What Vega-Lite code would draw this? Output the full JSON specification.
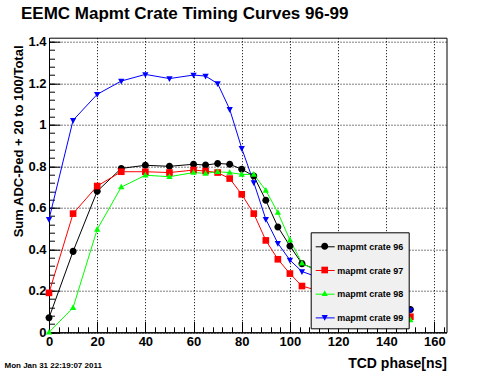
{
  "$schema": "https://vega.github.io/schema/vega-lite/v6.json",
  "width": 397.5,
  "height": 294.6,
  "autosize": {"type": "none"},
  "padding": {"left": 49, "top": 37.7, "right": 49.5, "bottom": 39.7},
  "background": "white",
  "title": {
    "text": "EEMC Mapmt Crate Timing Curves 96-99",
    "anchor": "start",
    "frame": "group",
    "font": "Liberation Sans",
    "fontSize": 17,
    "fontWeight": "bold",
    "color": "black",
    "dx": -28,
    "dy": 16,
    "baseline": "alphabetic",
    "offset": 16
  },
  "data": {
    "values": [
      {"crate": "mapmt crate 96", "phase": 0, "value": 0.07},
      {"crate": "mapmt crate 96", "phase": 10, "value": 0.39},
      {"crate": "mapmt crate 96", "phase": 20, "value": 0.68},
      {"crate": "mapmt crate 96", "phase": 30, "value": 0.79},
      {"crate": "mapmt crate 96", "phase": 40, "value": 0.805},
      {"crate": "mapmt crate 96", "phase": 50, "value": 0.8},
      {"crate": "mapmt crate 96", "phase": 60, "value": 0.81},
      {"crate": "mapmt crate 96", "phase": 65, "value": 0.806},
      {"crate": "mapmt crate 96", "phase": 70, "value": 0.814},
      {"crate": "mapmt crate 96", "phase": 75, "value": 0.81},
      {"crate": "mapmt crate 96", "phase": 80, "value": 0.786},
      {"crate": "mapmt crate 96", "phase": 85, "value": 0.753},
      {"crate": "mapmt crate 96", "phase": 90, "value": 0.636},
      {"crate": "mapmt crate 96", "phase": 95, "value": 0.508},
      {"crate": "mapmt crate 96", "phase": 100, "value": 0.416},
      {"crate": "mapmt crate 96", "phase": 105, "value": 0.331},
      {"crate": "mapmt crate 96", "phase": 150, "value": 0.11},
      {"crate": "mapmt crate 97", "phase": 0, "value": 0.19},
      {"crate": "mapmt crate 97", "phase": 10, "value": 0.572},
      {"crate": "mapmt crate 97", "phase": 20, "value": 0.705},
      {"crate": "mapmt crate 97", "phase": 30, "value": 0.774},
      {"crate": "mapmt crate 97", "phase": 40, "value": 0.774},
      {"crate": "mapmt crate 97", "phase": 50, "value": 0.77},
      {"crate": "mapmt crate 97", "phase": 60, "value": 0.782},
      {"crate": "mapmt crate 97", "phase": 65, "value": 0.777},
      {"crate": "mapmt crate 97", "phase": 70, "value": 0.77},
      {"crate": "mapmt crate 97", "phase": 75, "value": 0.741},
      {"crate": "mapmt crate 97", "phase": 80, "value": 0.665},
      {"crate": "mapmt crate 97", "phase": 85, "value": 0.572},
      {"crate": "mapmt crate 97", "phase": 90, "value": 0.443},
      {"crate": "mapmt crate 97", "phase": 95, "value": 0.352},
      {"crate": "mapmt crate 97", "phase": 100, "value": 0.283},
      {"crate": "mapmt crate 97", "phase": 105, "value": 0.223},
      {"crate": "mapmt crate 97", "phase": 150, "value": 0.075},
      {"crate": "mapmt crate 98", "phase": 0, "value": 0.0},
      {"crate": "mapmt crate 98", "phase": 10, "value": 0.119},
      {"crate": "mapmt crate 98", "phase": 20, "value": 0.496},
      {"crate": "mapmt crate 98", "phase": 30, "value": 0.7},
      {"crate": "mapmt crate 98", "phase": 40, "value": 0.757},
      {"crate": "mapmt crate 98", "phase": 50, "value": 0.75},
      {"crate": "mapmt crate 98", "phase": 60, "value": 0.77},
      {"crate": "mapmt crate 98", "phase": 65, "value": 0.766},
      {"crate": "mapmt crate 98", "phase": 70, "value": 0.774},
      {"crate": "mapmt crate 98", "phase": 75, "value": 0.77},
      {"crate": "mapmt crate 98", "phase": 80, "value": 0.761},
      {"crate": "mapmt crate 98", "phase": 85, "value": 0.761},
      {"crate": "mapmt crate 98", "phase": 90, "value": 0.684},
      {"crate": "mapmt crate 98", "phase": 95, "value": 0.577},
      {"crate": "mapmt crate 98", "phase": 100, "value": 0.445},
      {"crate": "mapmt crate 98", "phase": 105, "value": 0.333},
      {"crate": "mapmt crate 98", "phase": 150, "value": 0.06},
      {"crate": "mapmt crate 99", "phase": 0, "value": 0.545},
      {"crate": "mapmt crate 99", "phase": 10, "value": 1.022},
      {"crate": "mapmt crate 99", "phase": 20, "value": 1.147},
      {"crate": "mapmt crate 99", "phase": 30, "value": 1.211},
      {"crate": "mapmt crate 99", "phase": 40, "value": 1.243},
      {"crate": "mapmt crate 99", "phase": 50, "value": 1.223},
      {"crate": "mapmt crate 99", "phase": 60, "value": 1.24},
      {"crate": "mapmt crate 99", "phase": 65, "value": 1.235},
      {"crate": "mapmt crate 99", "phase": 70, "value": 1.199},
      {"crate": "mapmt crate 99", "phase": 75, "value": 1.075},
      {"crate": "mapmt crate 99", "phase": 80, "value": 0.887},
      {"crate": "mapmt crate 99", "phase": 85, "value": 0.722},
      {"crate": "mapmt crate 99", "phase": 90, "value": 0.545},
      {"crate": "mapmt crate 99", "phase": 95, "value": 0.429},
      {"crate": "mapmt crate 99", "phase": 100, "value": 0.348},
      {"crate": "mapmt crate 99", "phase": 105, "value": 0.293},
      {"crate": "mapmt crate 99", "phase": 150, "value": 0.107}
    ]
  },
  "layer": [
    {
      "mark": {"type": "line", "strokeWidth": 1},
      "encoding": {
        "x": {
          "field": "phase", "type": "quantitative",
          "scale": {"domain": [0, 165], "nice": false, "zero": false},
          "axis": {
            "orient": "bottom",
            "values": [0, 20, 40, 60, 80, 100, 120, 140, 160],
            "tickSize": -11,
            "labelPadding": 14,
            "labelBaseline": "top",
            "labelFlush": false,
            "labelOverlap": false,
            "grid": true,
            "title": "TCD phase[ns]",
            "titleFontSize": 14,
            "titleX": 397.5,
            "titleY": 34.7,
            "titleAlign": "right",
            "titleBaseline": "alphabetic"
          }
        },
        "y": {
          "field": "value", "type": "quantitative",
          "scale": {"domain": [0, 1.42], "nice": false, "zero": false},
          "axis": {
            "orient": "left",
            "values": [0, 0.2, 0.4, 0.6, 0.8, 1, 1.2, 1.4],
            "format": "~g",
            "tickSize": -11,
            "labelPadding": 14,
            "labelFlush": false,
            "labelOverlap": false,
            "grid": true,
            "title": "Sum ADC-Ped + 20 to 100/Total",
            "titleFontSize": 13,
            "titleAngle": 270,
            "titleX": -27,
            "titleY": 7.3,
            "titleAlign": "right",
            "titleBaseline": "alphabetic"
          }
        },
        "stroke": {
          "field": "crate", "type": "nominal",
          "scale": {
            "domain": ["mapmt crate 96", "mapmt crate 97", "mapmt crate 98", "mapmt crate 99"],
            "range": ["#000000", "#ff0000", "#00ff00", "#0000ff"]
          },
          "legend": {
            "orient": "none",
            "legendX": 261.7,
            "legendY": 194.6,
            "zindex": 1,
            "title": null,
            "fillColor": "#f0f0f0",
            "strokeColor": "black",
            "cornerRadius": 0,
            "padding": 4.5,
            "rowPadding": 8.7,
            "labelOffset": 2,
            "labelFont": "Liberation Sans",
            "labelFontSize": 9,
            "labelFontWeight": "bold",
            "labelColor": "black",
            "symbolType": "stroke",
            "symbolSize": 361,
            "symbolStrokeWidth": 1,
            "labelExpr": "datum.label + ' '"
          }
        }
      }
    },
    {
      "mark": {"type": "point", "filled": true, "opacity": 1, "size": 361},
      "encoding": {
        "x": {
          "field": "phase", "type": "quantitative",
          "axis": {
            "orient": "bottom",
            "values": [0, 4, 8, 12, 16, 20, 24, 28, 32, 36, 40, 44, 48, 52, 56, 60, 64, 68, 72, 76, 80, 84, 88, 92, 96, 100, 104, 108, 112, 116, 120, 124, 128, 132, 136, 140, 144, 148, 152, 156, 160, 164],
            "tickSize": -5.5,
            "labels": false,
            "domain": false,
            "grid": false,
            "title": "Mon Jan 31 22:19:07 2011",
            "titleFontSize": 8,
            "titleX": -45,
            "titleY": 35,
            "titleAlign": "left",
            "titleBaseline": "alphabetic"
          }
        },
        "y": {
          "field": "value", "type": "quantitative",
          "axis": {
            "orient": "left",
            "values": [0, 0.04, 0.08, 0.12, 0.16, 0.2, 0.24, 0.28, 0.32, 0.36, 0.4, 0.44, 0.48, 0.52, 0.56, 0.6, 0.64, 0.68, 0.72, 0.76, 0.8, 0.84, 0.88, 0.92, 0.96, 1, 1.04, 1.08, 1.12, 1.16, 1.2, 1.24, 1.28, 1.32, 1.36, 1.4],
            "tickSize": -5.5,
            "labels": false,
            "domain": false,
            "grid": false,
            "title": null
          }
        },
        "fill": {
          "field": "crate", "type": "nominal",
          "scale": {"range": ["#000000", "#ff0000", "#00ff00", "#0000ff"]},
          "legend": {
            "orient": "none",
            "legendX": 261.7,
            "legendY": 194.6,
            "zindex": 2,
            "title": null,
            "fillColor": null,
            "strokeColor": null,
            "padding": 4.5,
            "rowPadding": 8.7,
            "labelOffset": 2,
            "labelFont": "Liberation Sans",
            "labelFontSize": 9,
            "labelFontWeight": "bold",
            "labelOpacity": 0,
            "symbolSize": 361,
            "symbolOpacity": 1,
            "symbolStrokeWidth": 0,
            "labelExpr": "datum.label + ' '"
          }
        },
        "shape": {
          "field": "crate", "type": "nominal",
          "scale": {
            "range": [
              "M0.37,0A0.37,0.37,0,1,1,-0.37,0A0.37,0.37,0,1,1,0.37,0Z",
              "M-0.35,-0.35H0.35V0.35H-0.35Z",
              "M0,-0.36L0.33,0.24H-0.33Z",
              "M0,0.36L0.33,-0.24H-0.33Z"
            ]
          }
        }
      }
    }
  ],
  "resolve": {"axis": {"x": "independent", "y": "independent"}},
  "config": {
    "font": "Liberation Sans",
    "view": {"stroke": "black", "strokeWidth": 1},
    "axis": {
      "labelFont": "Liberation Sans",
      "labelFontWeight": "bold",
      "labelFontSize": 13,
      "labelColor": "black",
      "titleFont": "Liberation Sans",
      "titleFontWeight": "bold",
      "titleColor": "black",
      "domainColor": "black",
      "domainWidth": 1,
      "tickColor": "black",
      "tickWidth": 1,
      "gridColor": "black",
      "gridDash": [1, 2],
      "gridOpacity": 1,
      "gridWidth": 1
    }
  }
}
